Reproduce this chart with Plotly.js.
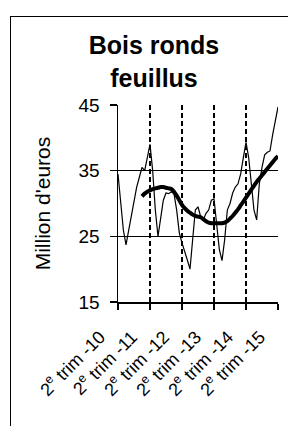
<!DOCTYPE html>
<html>
<head>
<meta charset="utf-8">
<script src="https://cdn.plot.ly/plotly-3.0.1.min.js"></script>
<style>
  html, body { margin: 0; padding: 0; background: #fff; }
  #wrap { position: relative; width: 288px; height: 426px; overflow: hidden; }
  #frame { position: absolute; left: 10px; top: 16px; width: 300px; height: 430px;
           border-left: 1px solid #000; border-top: 1px solid #000; pointer-events: none; }
  #chart { position: absolute; left: 0; top: 0; width: 288px; height: 426px; }
</style>
</head>
<body>
<div id="wrap">
  <div id="chart"></div>
  <div id="frame"></div>
</div>
<script>
// Monthly values, April 2010 .. April 2015 (million euros)
const monthly = [
  34.5, 30.5, 26.0, 23.7, 26.0, 28.5, 30.5, 32.5, 34.0, 35.5, 35.0, 37.0,
  39.0, 35.0, 29.0, 25.0, 28.0, 30.5, 31.6, 31.5, 31.8, 31.5, 29.0, 25.5,
  24.0, 22.5, 21.4, 20.0, 24.5, 29.0, 29.5, 28.0, 27.5, 28.5, 29.0, 30.5,
  30.7, 27.0, 23.0, 21.3, 24.5, 29.0, 30.0, 31.6, 32.5, 33.0, 34.5, 37.0,
  39.3, 37.0, 33.0, 29.0, 27.5, 33.0, 35.5, 37.4, 37.8, 38.0, 40.5, 42.7,
  44.7
];
// Trend (starts at month index 9)
const trendStart = 9;
const trend = [
  31.1, 31.5, 31.8, 32.0, 32.2, 32.3, 32.4, 32.5, 32.5, 32.4, 32.3, 32.2,
  31.8, 31.2, 30.5, 29.8, 29.3, 28.9, 28.6, 28.3, 28.1, 28.0, 27.9, 27.6,
  27.3, 27.1, 27.0, 27.0, 27.0, 27.0, 27.0, 27.1, 27.3, 27.7, 28.1, 28.6,
  29.1, 29.7, 30.3, 30.9, 31.5, 32.1, 32.7, 33.3, 33.8, 34.3, 34.8, 35.3,
  35.8, 36.3, 36.8, 37.2
];
const tickPos = [0, 12, 24, 36, 48, 60];
const tickLabels = ["2<sup>e</sup> trim -10", "2<sup>e</sup> trim -11", "2<sup>e</sup> trim -12",
                    "2<sup>e</sup> trim -13", "2<sup>e</sup> trim -14", "2<sup>e</sup> trim -15"];
const yTicks = [15, 25, 35, 45];

const xMonthly = monthly.map((_, i) => i);
const xTrend = trend.map((_, i) => i + trendStart);

const FONT = "Liberation Sans, Arial, sans-serif";

const data = [
  { x: xMonthly, y: monthly, type: "scatter", mode: "lines",
    line: { color: "#000", width: 1.2 }, hoverinfo: "skip" },
  { x: xTrend, y: trend, type: "scatter", mode: "lines",
    line: { color: "#000", width: 4, shape: "spline" }, hoverinfo: "skip" }
];

const layout = {
  width: 288, height: 426,
  paper_bgcolor: "#fff", plot_bgcolor: "#fff",
  showlegend: false,
  margin: { l: 118, r: 10, t: 105, b: 124 },
  title: {
    text: "<b>Bois ronds<br>feuillus</b>",
    font: { family: FONT, size: 25, color: "#000" },
    x: 154 / 288, xref: "container", xanchor: "center",
    y: 1 - 54 / 426, yref: "container", yanchor: "top"
  },
  xaxis: {
    range: [0, 60], fixedrange: true,
    tickvals: tickPos, ticktext: tickLabels, tickangle: -45,
    ticks: "outside", ticklen: 6, tickwidth: 1.5, tickcolor: "#000",
    ticklabelshift: -18, ticklabelstandoff: 10,
    showline: true, linecolor: "#000", linewidth: 1.5,
    showgrid: true, gridcolor: "#000", gridwidth: 1.5, griddash: "5px,3px",
    zeroline: false,
    tickfont: { family: FONT, size: 18, color: "#000" }
  },
  yaxis: {
    range: [15, 45], fixedrange: true,
    tickvals: yTicks,
    ticks: "outside", ticklen: 7, tickwidth: 1.5, tickcolor: "#000",
    ticklabelstandoff: 6,
    showline: true, linecolor: "#000", linewidth: 1.5,
    showgrid: true, gridcolor: "#000", gridwidth: 1.5,
    zeroline: false,
    tickfont: { family: FONT, size: 19, color: "#000" },
    title: { text: "Million d'euros", font: { family: FONT, size: 21, color: "#000" }, standoff: 22 }
  }
};

Plotly.newPlot("chart", data, layout, { staticPlot: true, displayModeBar: false });
</script>
</body>
</html>
